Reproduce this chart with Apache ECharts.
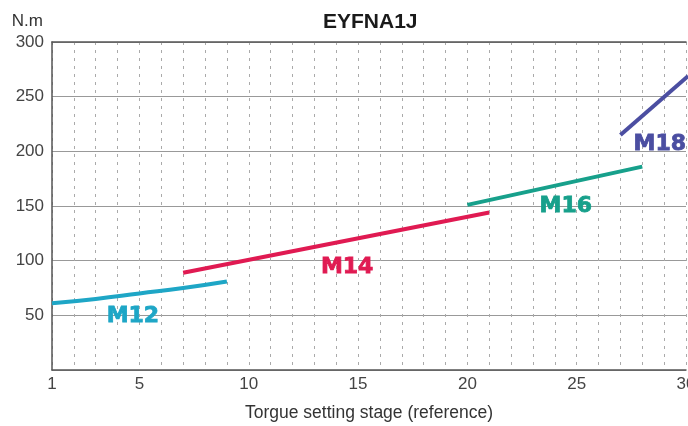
<!DOCTYPE html>
<html lang="en">
<head>
    <meta charset="UTF-8">
    <title>EYFNA1J</title>
    <script src="https://cdn.jsdelivr.net/npm/echarts@6/dist/echarts.min.js"></script>
    <style>
        html, body { margin: 0; padding: 0; background: #fff; }
        #main { width: 688px; height: 426px; }
    </style>
</head>
<body>
<div id="main"></div>
<script>
    // data
    var xTickLabels = [1, 5, 10, 15, 20, 25, 30];
    var m12 = [[1, 61], [3, 65], [5, 70], [7, 75], [9, 81]];
    var m14 = [[7, 89], [21, 144]];
    var m16 = [[20, 151], [28, 186]];
    var m18 = [[27, 215], [30.1, 269]];
    // label anchor points (data units)
    var labelNames = ['M12', 'M14', 'M16', 'M18'];
    var labelPos = [[4.7, 49], [14.5, 94], [24.5, 150], [28.8, 206]];

    var colors = {M12: '#1ea6c6', M14: '#e01a52', M16: '#17a08b', M18: '#4b4ea1'};
    var fontFamily = '"Liberation Sans", Arial, sans-serif';

    function makeSeries(name, data, smooth) {
        return {
            name: name,
            type: 'line',
            data: data,
            smooth: smooth,
            symbol: 'none',
            lineStyle: {color: colors[name], width: 4, cap: 'butt'}
        };
    }

    // text labels M12..M18 drawn as an invisible scatter with labels
    var labelData = labelNames.map(function (n, i) {
        return {
            value: labelPos[i],
            name: n,
            label: {color: colors[n], textBorderColor: colors[n]}
        };
    });

    var myChart = echarts.init(document.getElementById('main'));
    var option = {
        animation: false,
        title: {
            text: 'EYFNA1J',
            left: 318,
            top: 7,
            textStyle: {fontSize: 21, fontWeight: 'bold', color: '#1a1a1a', fontFamily: fontFamily}
        },
        grid: {left: 52, right: 2, top: 42, bottom: 56, containLabel: false, outerBoundsMode: 'none'},
        xAxis: [{
            type: 'value',
            min: 1,
            max: 30,
            interval: 1,
            name: 'Torgue setting stage (reference)',
            nameLocation: 'middle',
            nameGap: 34,
            nameTextStyle: {fontSize: 17.5, color: '#333', fontFamily: fontFamily},
            axisLine: {show: true, lineStyle: {color: '#555', width: 1.5}},
            axisTick: {show: false},
            axisLabel: {
                fontSize: 17,
                color: '#444',
                margin: 6,
                fontFamily: fontFamily,
                formatter: function (v) {
                    return xTickLabels.indexOf(v) >= 0 ? String(v) : '';
                }
            },
            splitLine: {show: true, lineStyle: {color: '#aaa', type: [3, 5], width: 1}}
        }, {
            type: 'value',
            position: 'top',
            min: 1,
            max: 30,
            axisLine: {show: true, lineStyle: {color: '#555', width: 1.5}},
            axisTick: {show: false},
            axisLabel: {show: false},
            splitLine: {show: false}
        }],
        yAxis: {
            type: 'value',
            min: 0,
            max: 300,
            interval: 50,
            name: 'N.m',
            nameLocation: 'end',
            nameGap: 12,
            nameTextStyle: {fontSize: 17, color: '#333', fontFamily: fontFamily, align: 'right', padding: [0, 9, 0, 0]},
            axisLine: {show: true, lineStyle: {color: '#555', width: 1.5}},
            axisTick: {show: false},
            axisLabel: {
                fontSize: 17,
                color: '#444',
                margin: 8,
                fontFamily: fontFamily,
                formatter: function (v) { return v === 0 ? '' : String(v); }
            },
            splitLine: {show: true, lineStyle: {color: '#999', width: 1}}
        },
        series: [
            makeSeries('M12', m12, true),
            makeSeries('M14', m14, false),
            makeSeries('M16', m16, false),
            makeSeries('M18', m18, false),
            {
                name: 'labels',
                type: 'scatter',
                data: labelData,
                symbol: 'circle',
                symbolSize: 0,
                itemStyle: {color: '#fff', opacity: 1},
                silent: true,
                label: {
                    show: true,
                    position: 'inside',
                    formatter: '{b}',
                    opacity: 1,
                    textBorderWidth: 0.8,
                    fontSize: 22,
                    fontWeight: 'bold',
                    fontFamily: '"DejaVu Sans", sans-serif'
                }
            }
        ]
    };
    myChart.setOption(option);
</script>
</body>
</html>
